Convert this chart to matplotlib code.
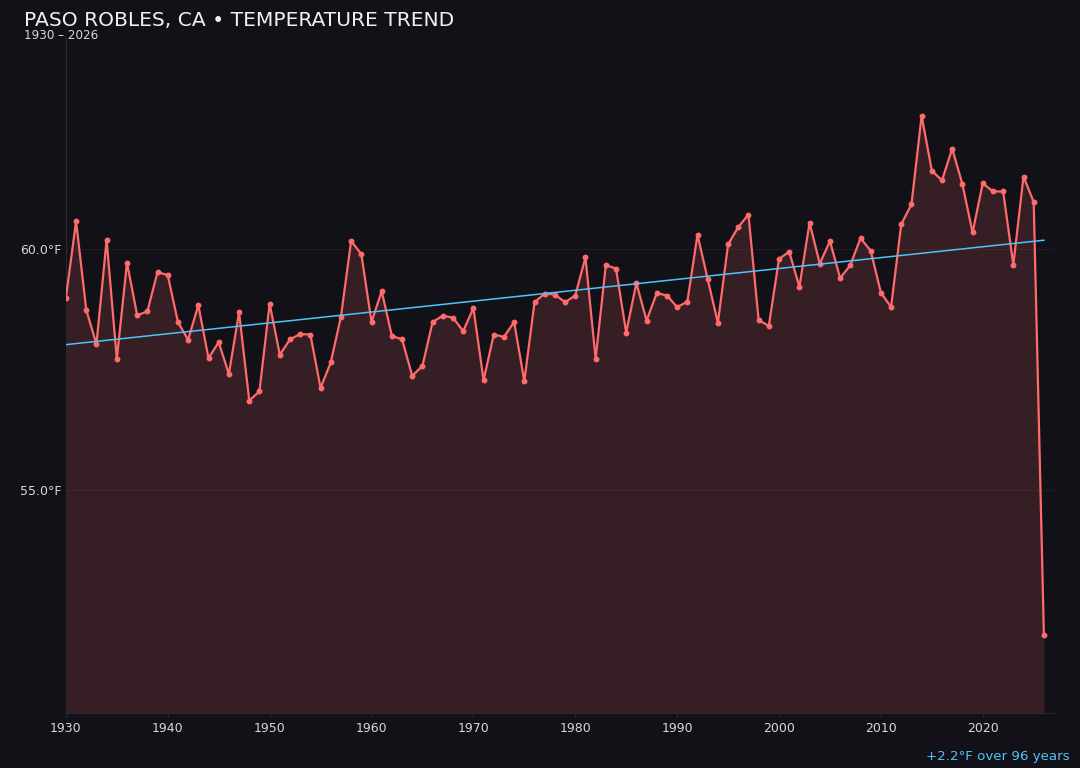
import numpy as np
import matplotlib.pyplot as plt
from matplotlib.ticker import MultipleLocator, FuncFormatter

# annual mean temperature, Paso Robles CA
years = list(range(1930, 2027))
temps = [
    58.99, 60.58, 58.74, 58.03, 60.19, 57.72, 59.72, 58.63, 58.71, 59.53,  # 1930s
    59.46, 58.49, 58.12, 58.84, 57.74, 58.07, 57.41, 58.69, 56.86, 57.05,  # 1940s
    58.87, 57.81, 58.13, 58.24, 58.23, 57.12, 57.65, 58.60, 60.17, 59.90,  # 1950s
    58.49, 59.13, 58.20, 58.13, 57.37, 57.58, 58.49, 58.62, 58.58, 58.30,  # 1960s
    58.78, 57.28, 58.23, 58.18, 58.49, 57.26, 58.90, 59.08, 59.06, 58.90,  # 1970s
    59.04, 59.83, 57.73, 59.67, 59.60, 58.27, 59.30, 58.52, 59.09, 59.04,  # 1980s
    58.80, 58.91, 60.30, 59.38, 58.47, 60.10, 60.46, 60.72, 58.53, 58.41,  # 1990s
    59.80, 59.95, 59.22, 60.55, 59.70, 60.17, 59.40, 59.67, 60.23, 59.97,  # 2000s
    59.10, 58.80, 60.52, 60.93, 62.77, 61.63, 61.43, 62.09, 61.35, 60.35,  # 2010s
    61.37, 61.20, 61.20, 59.68, 61.51, 60.98, 51.99,                       # 2020s
]
trend_label = "+2.2°F over 96 years"

BG = "#121118"
LINE = "#ff6b6b"
TREND = "#4fc3f7"

x = np.array(years)
y = np.array(temps)

# linear trend over all years
coef = np.polyfit(x, y, 1)
trend = np.polyval(coef, x)

fig = plt.figure(figsize=(10.8, 7.68), dpi=100, facecolor=BG)
ax = fig.add_axes([0.061, 0.0716, 0.915, 0.879])
ax.set_facecolor(BG)

lo, hi = y.min(), y.max()
pad = (hi - lo) * 0.15
ax.set_ylim(lo - pad, hi + pad)
ax.set_xlim(1930, 2027)

ax.fill_between(x, y, lo - pad, color=LINE, alpha=0.15, linewidth=0)
ax.plot(x, y, color=LINE, linewidth=1.6, marker="o", markersize=3.2, zorder=3)
ax.plot(x, trend, color=TREND, linewidth=1.1, zorder=4)

ax.yaxis.set_major_locator(MultipleLocator(5))
ax.yaxis.set_minor_locator(MultipleLocator(0.5))
ax.yaxis.set_major_formatter(FuncFormatter(lambda v, p: f"{v:.1f}°F"))
ax.xaxis.set_major_locator(MultipleLocator(10))
ax.grid(axis="y", which="major", color="#ffffff", alpha=0.05, linewidth=0.8)
ax.grid(axis="y", which="minor", color="#ffffff", alpha=0.02, linewidth=0.6)

for side in ["top", "right"]:
    ax.spines[side].set_visible(False)
for side in ["left", "bottom"]:
    ax.spines[side].set_color("#2a2a33")
ax.tick_params(axis="both", which="both", colors="#2a2a33", labelcolor="#d8d8d8",
               labelsize=9, length=3)
ax.tick_params(axis="y", which="both", length=0)

fig.text(0.022, 0.973, "PASO ROBLES, CA • TEMPERATURE TREND", color="#f0f0f0",
         fontsize=14.6, ha="left", va="center")
fig.text(0.022, 0.954, "1930 – 2026", color="#d8d8d8", fontsize=8.6,
         ha="left", va="center")
fig.text(0.99, 0.0156, trend_label, color=TREND, fontsize=9.6,
         ha="right", va="center")

fig.savefig("out.png", dpi=100, facecolor=BG)
